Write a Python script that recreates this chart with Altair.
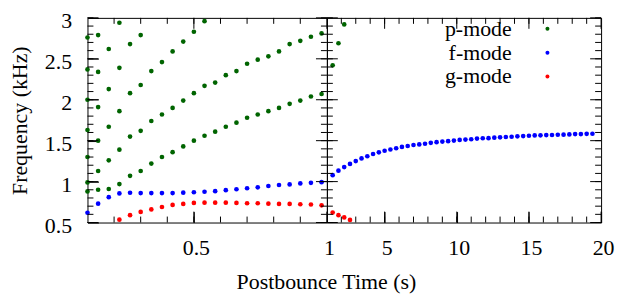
import altair as alt
import pandas as pd

# ---------------- data ----------------
left_times = [0.10, 0.14, 0.18, 0.22, 0.26, 0.30, 0.34, 0.38, 0.42, 0.46, 0.50, 0.54,
              0.58, 0.62, 0.66, 0.70, 0.74, 0.78, 0.82, 0.86, 0.90, 0.94, 0.98]
right_times = [1.4, 1.8, 2.2, 2.6, 3.0, 3.4, 3.8, 4.2, 4.6, 5.0, 5.4, 5.8, 6.2, 6.6, 7.0,
               7.4, 7.8, 8.2, 8.6, 9.0, 9.4, 9.8, 10.2, 10.6, 11.0, 11.4, 11.8, 12.2, 12.6,
               13.0, 13.4, 13.8, 14.2, 14.6, 15.0, 15.4, 15.8, 16.2, 16.6, 17.0, 17.4, 17.8,
               18.2, 18.6, 19.0, 19.4]

# p-mode tracks (each starts at the first left time)
p_track1 = [0.88, 0.90, 0.91, 0.97, 1.07, 1.13, 1.22, 1.30, 1.36, 1.43, 1.50, 1.56,
            1.61, 1.67, 1.72, 1.78, 1.82, 1.86, 1.90, 1.95, 1.99, 2.04, 2.07]
p_track2 = [0.99, 1.13, 1.26, 1.39, 1.55, 1.62, 1.74, 1.82, 1.90, 1.99, 2.08, 2.17,
            2.21, 2.30, 2.35, 2.44, 2.49, 2.53, 2.59, 2.68, 2.72, 2.77, 2.81]
p_track3 = [1.30, 1.50, 1.67, 1.86, 2.08, 2.18, 2.35, 2.46, 2.59, 2.71, 2.83, 2.96]
p_track4 = [1.63, 1.91, 2.13, 2.39, 2.68, 2.79]
p_track5 = [2.00, 2.34, 2.62, 2.94]
p_track6 = [2.37, 2.79]
p_track7 = [2.76]
p_right = [2.42, 2.69, 2.92]

f_left = [0.62, 0.73, 0.81, 0.856, 0.864, 0.86, 0.86, 0.86, 0.86, 0.865, 0.87, 0.876,
          0.883, 0.895, 0.907, 0.919, 0.93, 0.946, 0.958, 0.966, 0.978, 0.985, 0.993]
f_right = [1.079, 1.134, 1.177, 1.216, 1.251, 1.283, 1.31, 1.337, 1.357, 1.377, 1.392,
           1.407, 1.424, 1.435, 1.447, 1.454, 1.462, 1.474, 1.482, 1.489, 1.494, 1.501,
           1.509, 1.513, 1.517, 1.525, 1.529, 1.531, 1.537, 1.541, 1.545, 1.548, 1.553,
           1.556, 1.560, 1.564, 1.565, 1.568, 1.569, 1.572, 1.573, 1.576, 1.580, 1.580,
           1.583, 1.584]

g_left_times = left_times[3:]
g_left = [0.535, 0.59, 0.63, 0.66, 0.69, 0.715, 0.727, 0.74, 0.743, 0.743, 0.743, 0.74,
          0.735, 0.735, 0.73, 0.727, 0.727, 0.723, 0.72, 0.71]
g_right = [0.621, 0.59, 0.562, 0.532]

modes = ["p-mode", "f-mode", "g-mode"]
colors = ["#006400", "#0000ff", "#ff0000"]

rows = []


def add(times, values, mode):
    for t, v in zip(times, values):
        rows.append({"t": t, "f": v, "mode": mode})


for tr in [p_track1, p_track2, p_track3, p_track4, p_track5, p_track6, p_track7]:
    add(left_times, tr, "p-mode")
add(right_times, p_right, "p-mode")
add(left_times, f_left, "f-mode")
add(right_times, f_right, "f-mode")
add(g_left_times, g_left, "g-mode")
add(right_times, g_right, "g-mode")

df = pd.DataFrame(rows)
left_df = df[df.t <= 1.0]
right_df = df[df.t > 1.0]

# ---------------- axis tick positions ----------------
y_major = [0.5, 1.0, 1.5, 2.0, 2.5, 3.0]
y_minor = [round(0.5 + 0.1 * i, 1) for i in range(26)]

left_major = [0.5, 1.0]
left_minor = [round(0.1 * i, 1) for i in range(2, 10)]
left_labels = [0.5, 1.0]

right_major = [5, 10, 15, 20]
right_minor = list(range(2, 20))
right_labels = [5, 10, 15, 20]

# ---------------- styling ----------------
FONT = "Liberation Serif"
FS = 22
H = 206
WL, WR = 241, 276
MAJ, MIN = 11, 6
y_dom = [0.5, 3.0]
left_dom = [0.1, 1.0]
right_dom = [1.0, 20.0]
INWARD = {"expr": "-11"}


def panel(data, xdom, xmaj, xmin, xlab, width, is_left):
    xs = alt.Scale(domain=xdom, nice=False, zero=False)
    ys = alt.Scale(domain=y_dom, nice=False, zero=False)

    if is_left:
        x_main = alt.Axis(orient="bottom", values=xlab, format="~g", ticks=True,
                          tickSize=INWARD, tickColor="black", tickWidth=1, domain=False,
                          grid=False, labelPadding=26, labelFlush=False, labelOverlap=False,
                          labelOffset=2, labelFont=FONT, labelFontSize=FS, labelColor="black",
                          title="Postbounce Time (s)", titleX=240, titleY=66,
                          titleBaseline="alphabetic", titleAlign="center", titleFont=FONT,
                          titleFontSize=FS, titleFontWeight="normal", titleColor="black")
        y_main = alt.Axis(orient="left", values=y_major, format="~g", ticks=True,
                          tickSize=INWARD, tickColor="black", tickWidth=1, domain=False,
                          grid=False, labelPadding=27, labelOverlap=False, labelOffset=3,
                          labelFont=FONT, labelFontSize=FS, labelColor="black",
                          title="Frequency (kHz)", titleX=-61, titleY=H / 2, titleAngle=270,
                          titleBaseline="alphabetic", titleAlign="center", titleFont=FONT,
                          titleFontSize=FS, titleFontWeight="normal", titleColor="black")
        legend = None
    else:
        x_main = alt.Axis(orient="bottom", values=xlab, format="~g", ticks=True,
                          tickSize=INWARD, tickColor="black", tickWidth=1, domain=False,
                          grid=False, labelPadding=26, labelFlush=False, labelOverlap=False,
                          labelOffset=2, labelFont=FONT, labelFontSize=FS, labelColor="black",
                          title=None)
        y_main = None
        legend = alt.Legend(orient="none", legendX=211, legendY=0, title=None,
                            labelAlign="right", labelOffset={"expr": "-47"}, labelFont=FONT,
                            labelFontSize=FS, labelColor="black", symbolSize=16,
                            symbolType="circle", rowPadding=2, padding=0,
                            symbolStrokeWidth=0)

    main = alt.Chart(data).mark_circle(size=22, opacity=1).encode(
        x=alt.X("t:Q", scale=xs, axis=x_main),
        y=alt.Y("f:Q", scale=ys, axis=y_main),
        color=alt.Color("mode:N", scale=alt.Scale(domain=modes, range=colors),
                        sort=modes, legend=legend),
    )

    # inward tick marks, positioned through the same scales
    def yticks(values, a, b):
        return alt.Chart(pd.DataFrame({"t": [xdom[0]] * len(values), "f": values})).mark_rule(
            color="black", strokeWidth=1).encode(
            y=alt.Y("f:Q", scale=ys, axis=y_main), x=alt.value(a), x2=alt.value(b))

    def xticks(values, a, b):
        return alt.Chart(pd.DataFrame({"t": values, "f": [y_dom[0]] * len(values)})).mark_rule(
            color="black", strokeWidth=1).encode(
            x=alt.X("t:Q", scale=xs, axis=x_main), y=alt.value(a), y2=alt.value(b))

    layers = [
        main,
        yticks(y_major, 0, MAJ), yticks(y_minor, 0, MIN),
        yticks(y_major, width - MAJ, width), yticks(y_minor, width - MIN, width),
        xticks(xmaj, H - MAJ, H), xticks(xmin, H - MIN, H),
        xticks(xmaj, 0, MAJ), xticks(xmin, 0, MIN),
    ]
    return alt.layer(*layers).properties(width=width, height=H)


left = panel(left_df, left_dom, left_major, left_minor, left_labels, WL, True)
right = panel(right_df, right_dom, right_major, right_minor, right_labels, WR, False)

chart = (
    alt.hconcat(left, right, spacing=0, bounds="flush")
    .resolve_scale(color="independent")
    .resolve_legend(color="independent")
    .properties(padding={"left": 0, "top": 0, "right": 0, "bottom": 0}, background="white")
    .configure(font=FONT)
    .configure_view(stroke="black", strokeWidth=1)
)

chart.save("out.html", embed_options={"renderer": "svg", "actions": False})
